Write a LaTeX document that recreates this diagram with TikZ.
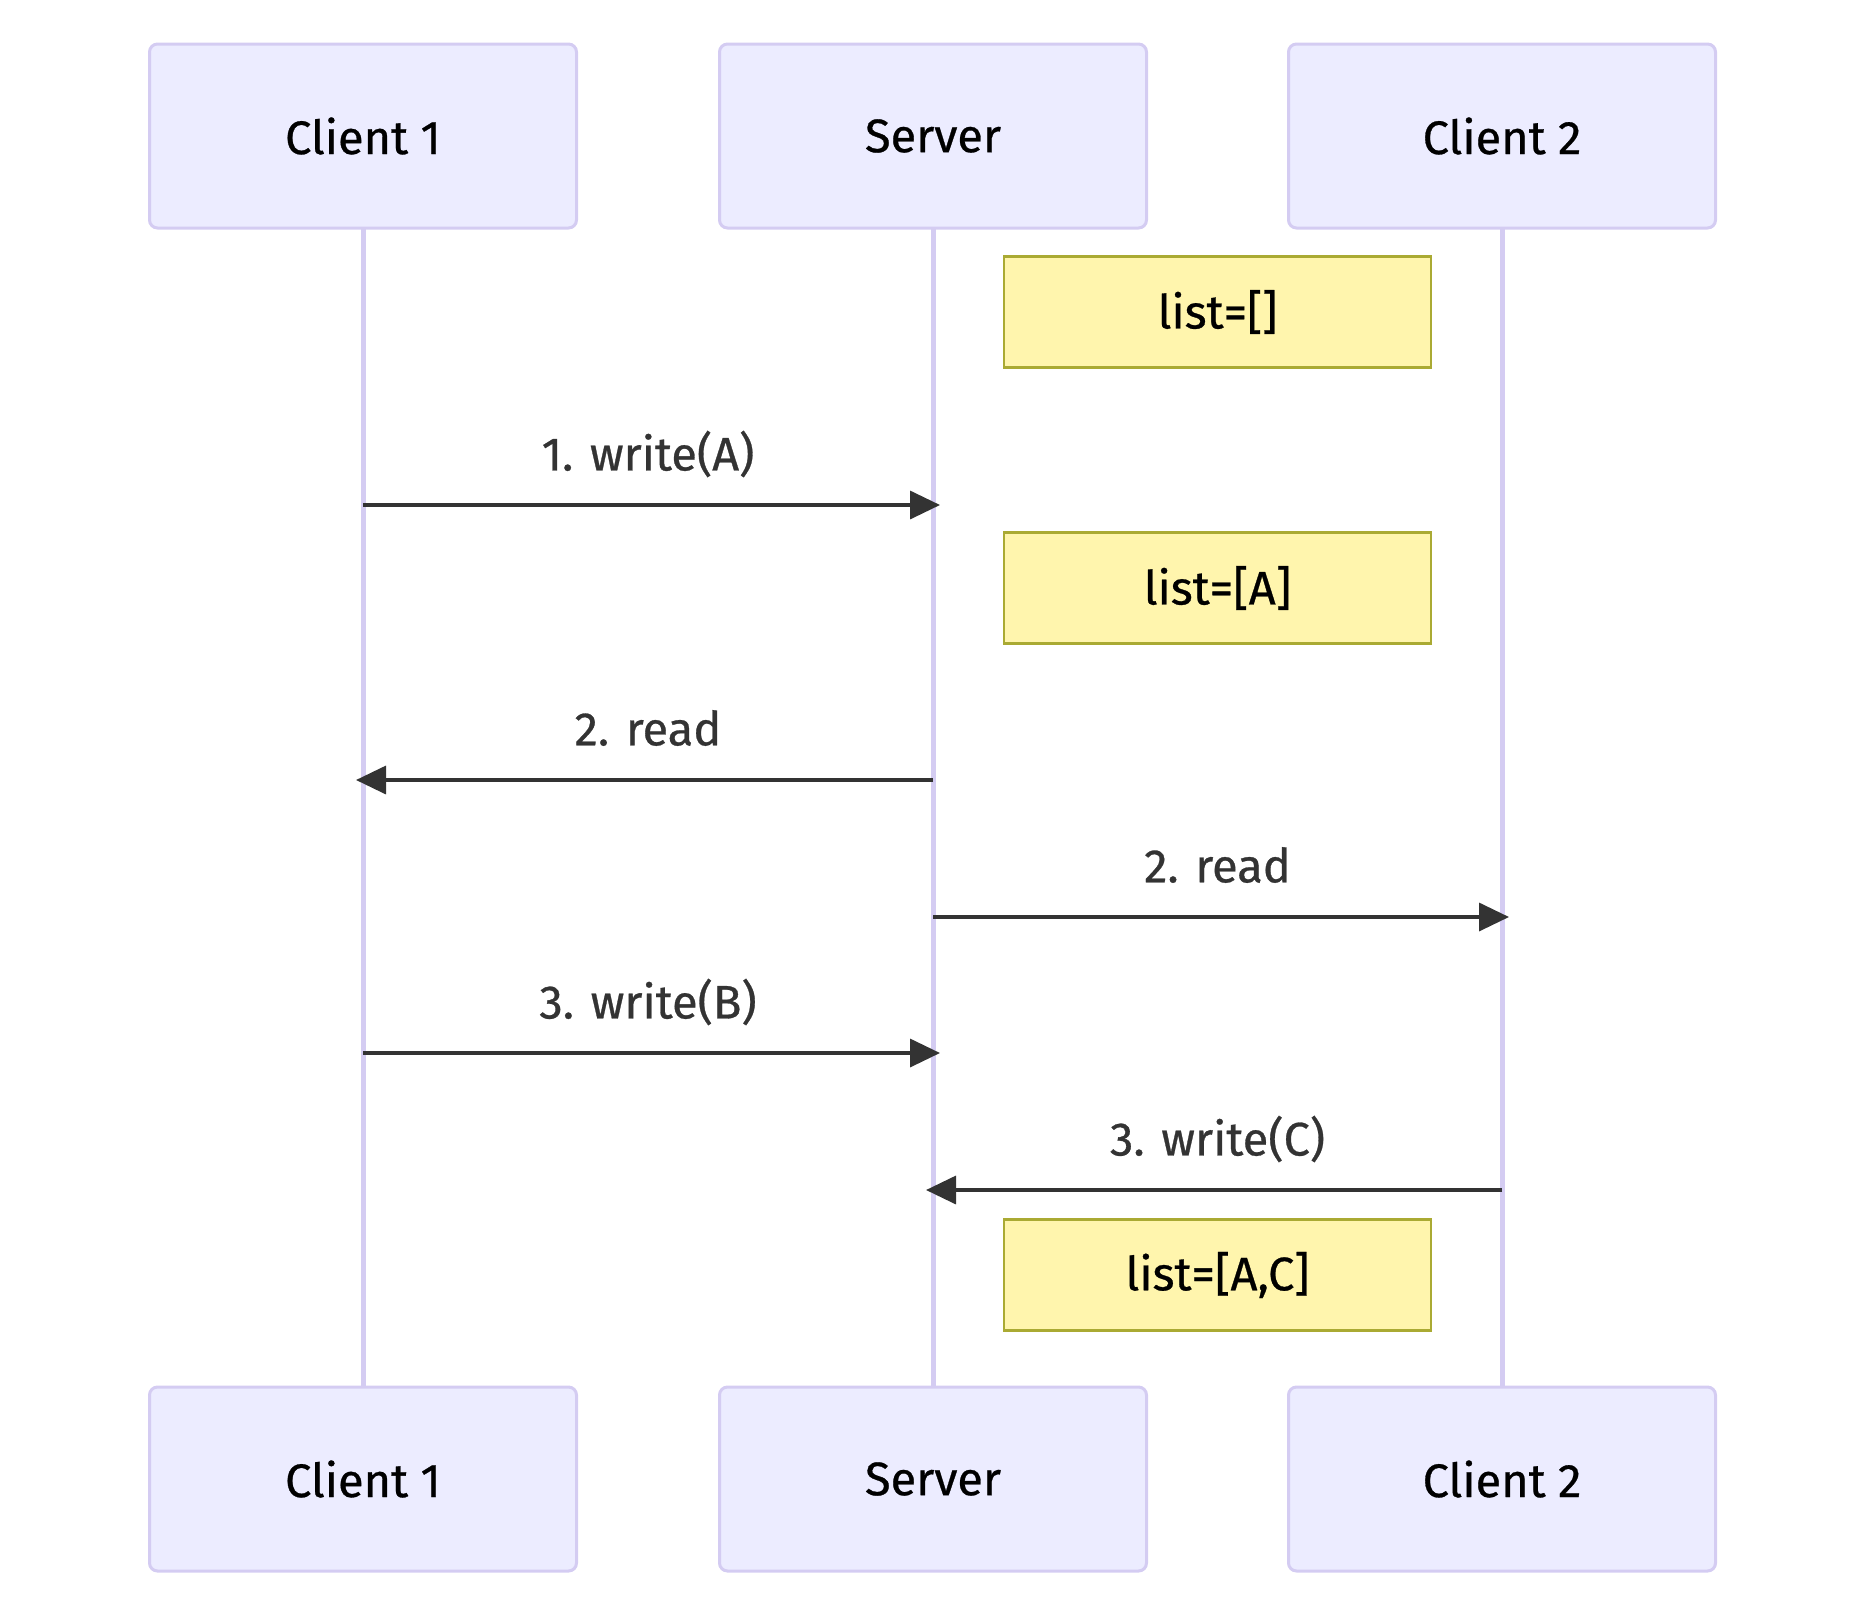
\documentclass[tikz,border=0pt]{standalone}
\usepackage{fontspec}
\setmainfont{Fira Sans}[FakeBold=0.6,AutoFakeBold=0.6]
\usetikzlibrary{arrows.meta}
\definecolor{actfill}{HTML}{ECECFF}
\definecolor{actline}{HTML}{D4CCF2}
\definecolor{notefill}{HTML}{FFF5AD}
\definecolor{noteline}{HTML}{AAAA33}
\definecolor{msg}{HTML}{333333}
\newcommand{\dtxt}{\fontsize{47}{54}\selectfont\bfseries}
\tikzset{
  actor/.style={draw=actline, fill=actfill, line width=3pt, rounded corners=8pt,
    minimum width=427pt, minimum height=184pt, inner sep=0pt,
    font=\dtxt, text=black},
  notebox/.style={draw=noteline, fill=notefill, line width=2.5pt,
    minimum width=427pt, minimum height=111pt, inner sep=0pt,
    font=\dtxt, text=black},
  life/.style={draw=actline, line width=5pt},
  msgline/.style={draw=msg, line width=3.5pt, -{Triangle[length=30pt,width=28pt]}},
  msglabel/.style={font=\dtxt, text=msg, inner sep=0pt}
}
\begin{document}
\begin{tikzpicture}[x=1pt,y=-1pt]
\useasboundingbox (0,0) rectangle (1868,1620);
% lifelines
\coordinate (c1t) at (363,228); \coordinate (c1b) at (363,1387);
\coordinate (svt) at (933,228); \coordinate (svb) at (933,1387);
\coordinate (c2t) at (1502,228); \coordinate (c2b) at (1502,1387);
\draw[life] (c1t) -- (c1b);
\draw[life] (svt) -- (svb);
\draw[life] (c2t) -- (c2b);
% actors
\node[actor] (a1) at (363,136) {Client 1};
\node[actor] (a2) at (933,136) {Server};
\node[actor] (a3) at (1502,136) {Client 2};
\node[actor] (b1) at (363,1479) {Client 1};
\node[actor] (b2) at (933,1479) {Server};
\node[actor] (b3) at (1502,1479) {Client 2};
% notes
\node[notebox] (n1) at (1217.5,312) {list=[]};
\node[notebox] (n2) at (1217.5,588) {list=[A]};
\node[notebox] (n3) at (1217.5,1275) {list=[A,C]};
% messages
\coordinate (m1s) at (363,505); \coordinate (m1e) at (940,505);
\coordinate (m2s) at (933,780); \coordinate (m2e) at (356,780);
\coordinate (m3s) at (933,917); \coordinate (m3e) at (1509,917);
\coordinate (m4s) at (363,1053); \coordinate (m4e) at (940,1053);
\coordinate (m5s) at (1502,1190); \coordinate (m5e) at (926,1190);
\draw[msgline] (m1s) -- (m1e);
\draw[msgline] (m2s) -- (m2e);
\draw[msgline] (m3s) -- (m3e);
\draw[msgline] (m4s) -- (m4e);
\draw[msgline] (m5s) -- (m5e);
\node[msglabel] (l1) at (648,454) {1. write(A)};
\node[msglabel] (l2) at (648,728) {2. read};
\node[msglabel] (l3) at (1217.5,865) {2. read};
\node[msglabel] (l4) at (648,1002) {3. write(B)};
\node[msglabel] (l5) at (1217.5,1139) {3. write(C)};
\end{tikzpicture}
\end{document}
